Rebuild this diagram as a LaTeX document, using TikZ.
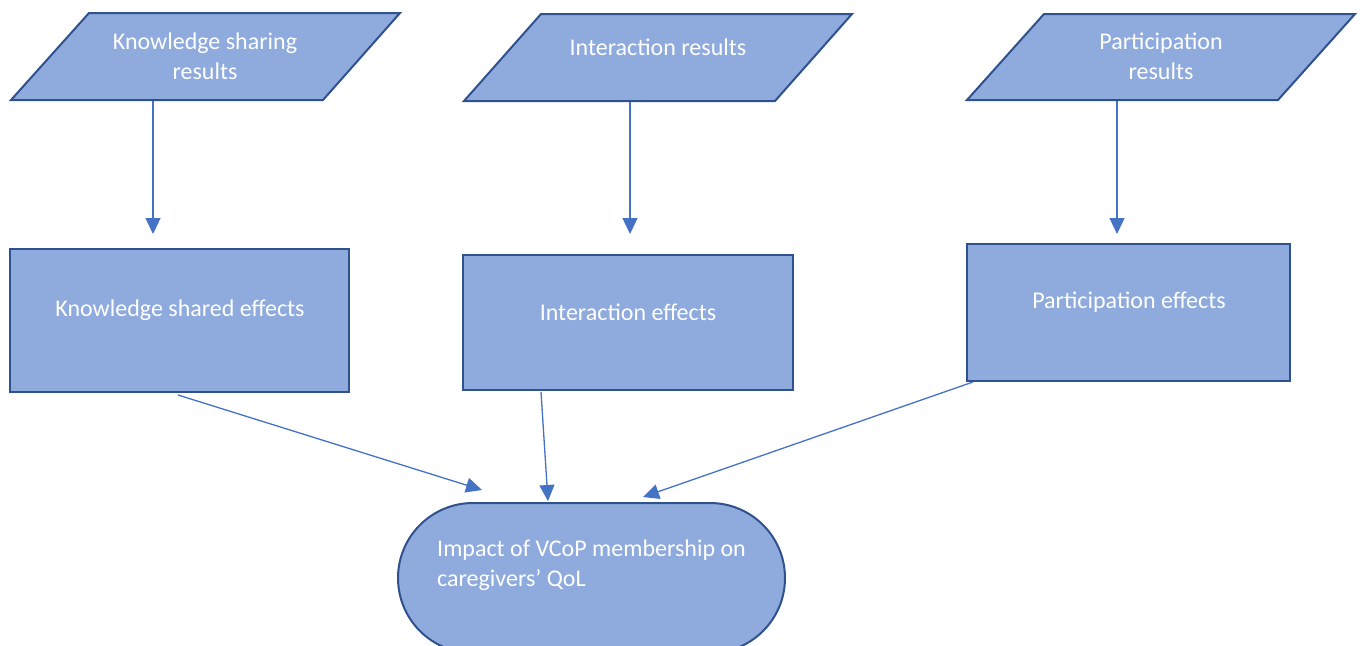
\documentclass[tikz,border=0pt]{standalone}
\usepackage{fontspec}
\setmainfont{Carlito}
\usetikzlibrary{arrows.meta}
\definecolor{boxfill}{HTML}{8FAADC}
\definecolor{boxline}{HTML}{2F528F}
\definecolor{arrowblue}{HTML}{4472C4}
\tikzset{
  shapebox/.style={fill=boxfill, draw=boxline, line width=2pt, inner sep=0pt},
  stepbox/.style={shapebox, rectangle},
  caption/.style={text=white, font=\fontsize{24}{30}\selectfont, align=center, inner sep=0pt},
  flowarrow/.style={draw=arrowblue, line width=1.3pt, -{Triangle[length=16pt,width=15pt]}}
}
\begin{document}
\begin{tikzpicture}[x=1pt,y=-1pt]
\useasboundingbox (0,0) rectangle (1362,645);
\clip (0,0) rectangle (1362,645);

% input parallelograms
\draw[shapebox] (89,13) -- (400,13) -- (323,100) -- (11,100) -- cycle;
\draw[shapebox] (541,14) -- (852,14) -- (775,101) -- (464,101) -- cycle;
\draw[shapebox] (1044,14) -- (1355,14) -- (1278,100) -- (967,100) -- cycle;
\node[caption] (tk) at (205,56) {Knowledge sharing\\results};
\node[caption] (ti) at (658,47) {Interaction results};
\node[caption] (tp) at (1161,56) {Participation\\results};

% effect boxes
\node[stepbox, minimum width=339pt, minimum height=143pt] (bk) at (179.5,320.5) {};
\node[stepbox, minimum width=330pt, minimum height=135pt] (bi) at (628,322.5) {};
\node[stepbox, minimum width=323pt, minimum height=137pt] (bp) at (1128.5,312.5) {};
\node[caption] (ek) at (180,310) {Knowledge shared effects};
\node[caption] (ei) at (628,312) {Interaction effects};
\node[caption] (ep) at (1129,302) {Participation effects};

% outcome terminal (runs past the lower edge)
\node[shapebox, rectangle, rounded corners=75pt, minimum width=387pt, minimum height=150pt] (q) at (591.5,578) {};
\node[caption, align=left, anchor=north west] (tq) at (437,540) {Impact of VCoP membership on\\caregivers’ QoL};

% connector end points
\coordinate (k0) at (153,101);  \coordinate (k1) at (153,234);
\coordinate (i0) at (630,102);  \coordinate (i1) at (630,234);
\coordinate (p0) at (1117,101); \coordinate (p1) at (1117,234);
\coordinate (a0) at (178,395);  \coordinate (a1) at (482,490);
\coordinate (b0) at (541,392);  \coordinate (b1) at (548,501);
\coordinate (c0) at (973,382);  \coordinate (c1) at (643,497);

\draw[flowarrow] (k0) -- (k1);
\draw[flowarrow] (i0) -- (i1);
\draw[flowarrow] (p0) -- (p1);
\draw[flowarrow] (a0) -- (a1);
\draw[flowarrow] (b0) -- (b1);
\draw[flowarrow] (c0) -- (c1);
\end{tikzpicture}
\end{document}
